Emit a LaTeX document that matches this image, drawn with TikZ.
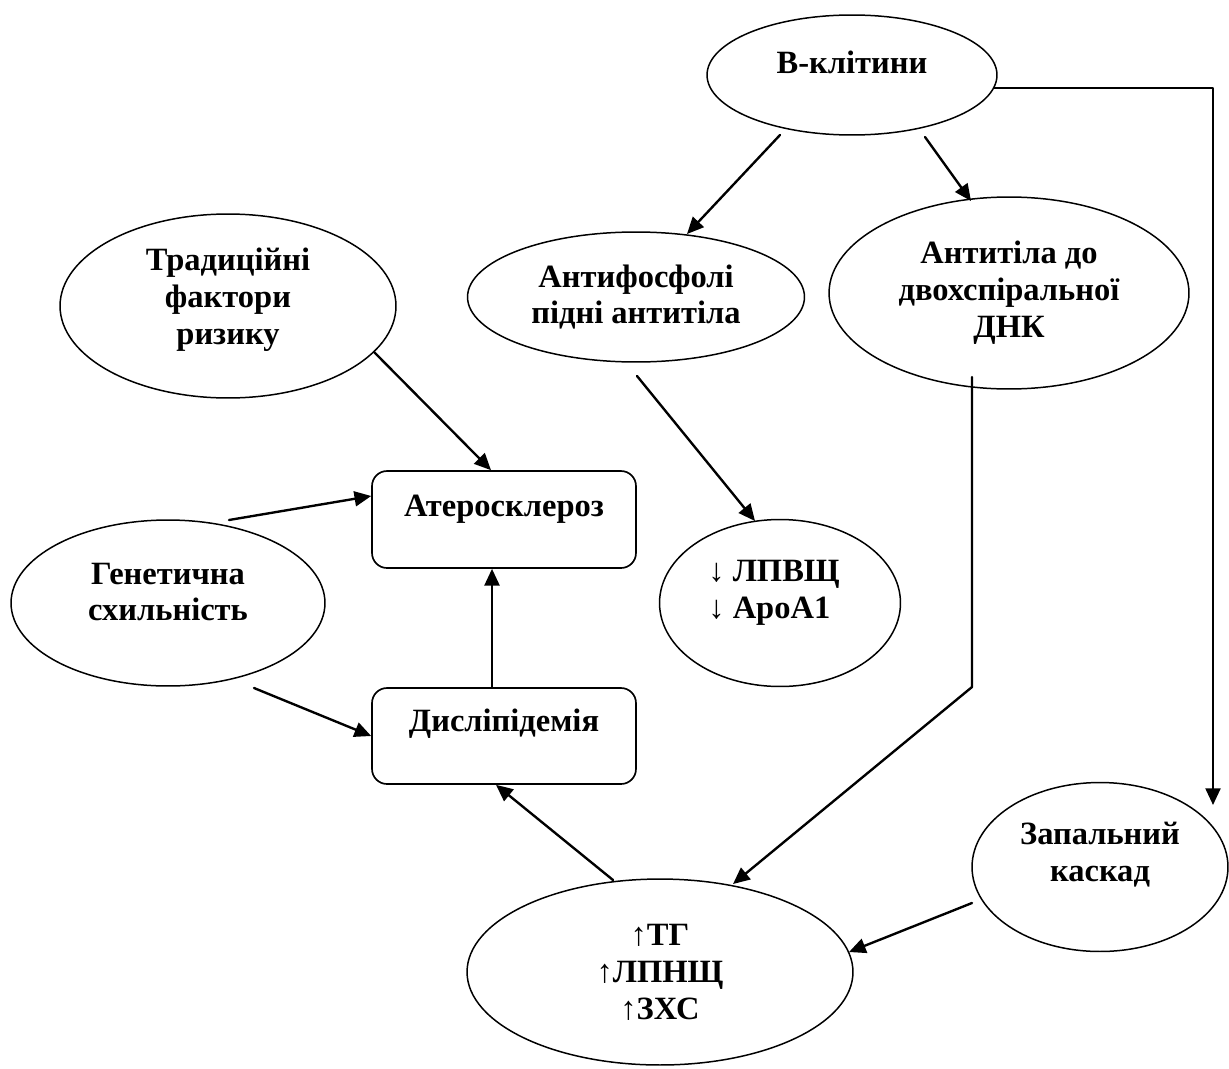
\documentclass[tikz,border=0pt]{standalone}
\usepackage{fontspec}
\setmainfont{Liberation Serif}
\usepackage{tikz}
\usetikzlibrary{arrows.meta,shapes.geometric,calc}

\tikzset{
  oval/.style={draw,ellipse,line width=0.85pt,inner sep=0pt},
  box/.style={draw,rectangle,rounded corners=0.3cm,line width=0.95pt,inner sep=0pt},
  txt/.style={font=\bfseries\fontsize{18.5}{21}\selectfont,align=center,inner sep=0pt},
  link/.style={->,line width=1.35pt}
}

\begin{document}
\begin{tikzpicture}[line cap=round,line join=round,>={Triangle[length=9.5pt,width=8.5pt]},x=0.02cm,y=-0.02cm]
            \useasboundingbox (0,0) rectangle (1229,1068);
            % ovals and boxes
            \node[oval,minimum width=5.8cm,minimum height=2.4cm,label={[txt,yshift=0.26cm]center:В-клітини}] (bcell) at (852,75) {};
            \node[oval,minimum width=6.74cm,minimum height=2.6cm,label={[txt]center:Антифосфолі\\підні антитіла}] (aphl) at (636,297) {};
            \node[oval,minimum width=7.2cm,minimum height=3.84cm,label={[txt]center:Антитіла до\\двохспіральної\\ДНК}] (adna) at (1009,293) {};
            \node[oval,minimum width=6.72cm,minimum height=3.68cm,label={[txt,yshift=0.12cm]center:Традиційні\\фактори\\ризику}] (trad) at (228,306) {};
            \node[oval,minimum width=6.28cm,minimum height=3.32cm,label={[txt,yshift=0.22cm]center:Генетична\\схильність}] (gen) at (168,603) {};
            \node[box,minimum width=5.28cm,minimum height=1.94cm,label={[txt,yshift=0.2cm]center:Атеросклероз}] (ather) at (504,519.5) {};
            \node[box,minimum width=5.28cm,minimum height=1.92cm,label={[txt,yshift=0.24cm]center:Дисліпідемія}] (dysl) at (504,736) {};
            \node[oval,minimum width=4.82cm,minimum height=3.34cm,label={[txt,align=left,yshift=0.2cm,xshift=-0.12cm]center:↓ ЛПВЩ\\↓ ApoA1}] (lpvsh) at (780,603) {};
            \node[oval,minimum width=5.12cm,minimum height=3.38cm,label={[txt,yshift=0.24cm]center:Запальний\\каскад}] (infl) at (1100,867) {};
            \node[oval,minimum width=7.72cm,minimum height=3.72cm,label={[txt]center:↑ТГ\\↑ЛПНЩ\\↑ЗХС}] (tg) at (660,972) {};
            % arrows
            \draw[link] ($(bcell)+(-72,60)$) -- ($(aphl)+(51,-63)$);
            \draw[link] ($(bcell)+(73,62)$) -- ($(adna)+(-38,-92)$);
            \draw[link] ($(bcell)+(142,13)$) -| ($(infl)+(113,-62)$);
            \draw[link] ($(trad)+(146,46)$) -- ($(ather.north)+(-13,0)$);
            \draw[link] ($(gen)+(61,-83)$) -- ($(ather.west)+(0,-23.5)$);
            \draw[link] ($(gen)+(86,85)$) -- (dysl.west);
            \draw[link] ($(dysl.north)+(-12,0)$) -- ($(ather.south)+(-12,0)$);
            \draw[link] ($(aphl)+(1,79)$) -- ($(lpvsh)+(-25,-82)$);
            \draw[link] ($(adna)+(-37,84)$) -- ($(adna)+(-37,394)$) -- ($(tg)+(73,-88)$);
            \draw[link] ($(infl)+(-128,36)$) -- ($(tg)+(189,-20)$);
            \draw[link] ($(tg)+(-47,-92)$) -- ($(dysl.south)+(-8,0)$);
\end{tikzpicture}
\end{document}
